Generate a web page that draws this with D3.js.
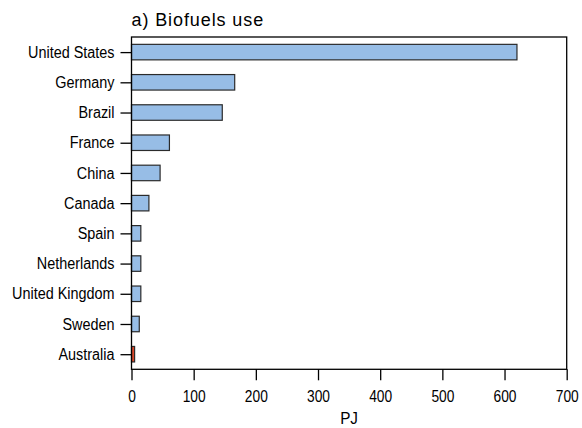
<!DOCTYPE html>
<html><head><meta charset="utf-8">
<script src="https://cdn.jsdelivr.net/npm/d3@7"></script>
<style>
body{margin:0;background:#fff;}
text{font-family:"Liberation Sans",Arial,Helvetica,sans-serif;fill:#000;}
</style></head>
<body><svg id="c" width="582" height="428"></svg>
<script>
const countries = ["United States","Germany","Brazil","France","China","Canada","Spain","Netherlands","United Kingdom","Sweden","Australia"];
const values = [620, 166, 146, 61, 46, 28, 15, 15, 15, 12.5, 5];
const highlight = ["Australia"];
const xTicks = [0,100,200,300,400,500,600,700];
const title = "a) Biofuels use";
const xLabel = "PJ";

const svg = d3.select("#c");
const L = 131.5, R = 566.7, T = 37, B = 369.3;
const x = d3.scaleLinear().domain([0,700]).range([L,R]);
const y = d3.scalePoint().domain(countries).range([T,B]).padding(0.5);
const bh = 15.5;

svg.selectAll("rect.bar").data(countries).enter().append("rect")
  .attr("class","bar")
  .attr("x", x(0))
  .attr("y", d=>y(d)-bh/2)
  .attr("width", (d,i)=>x(values[i])-x(0))
  .attr("height", bh)
  .attr("fill", d=>highlight.includes(d) ? "#d9472b" : "#97bde6")
  .attr("stroke", "#2b2b2b")
  .attr("stroke-width", 1.2);

svg.append("rect").attr("x",L).attr("y",T).attr("width",R-L).attr("height",B-T)
  .attr("fill","none").attr("stroke","#000").attr("stroke-width",1.3);

function condense(sel, f){
  sel.each(function(){
    const w = this.getComputedTextLength();
    d3.select(this).attr("textLength", w*f).attr("lengthAdjust","spacingAndGlyphs");
  });
}

const xa = svg.append("g").attr("transform",`translate(0,${B})`)
  .call(d3.axisBottom(x).tickValues(xTicks).tickSize(11).tickPadding(10).tickFormat(d3.format("d")));
const ya = svg.append("g").attr("transform",`translate(${L},0)`)
  .call(d3.axisLeft(y).tickSize(11).tickPadding(6));
[xa,ya].forEach(a=>{
  a.select(".domain").remove();
  a.selectAll("line").attr("stroke","#000").attr("stroke-width",1.3);
  a.selectAll("text").style("font-size","16px").attr("fill","#000");
});
condense(ya.selectAll("text"), 0.9);
condense(xa.selectAll("text"), 0.86);

svg.append("text").attr("x",L).attr("y",26).style("font-size","18px").style("letter-spacing","0.9px").text(title);
const pj = svg.append("text").attr("x",(L+R)/2).attr("y",424).attr("text-anchor","middle").style("font-size","17px").text(xLabel);
condense(pj, 0.9);
</script></body></html>
